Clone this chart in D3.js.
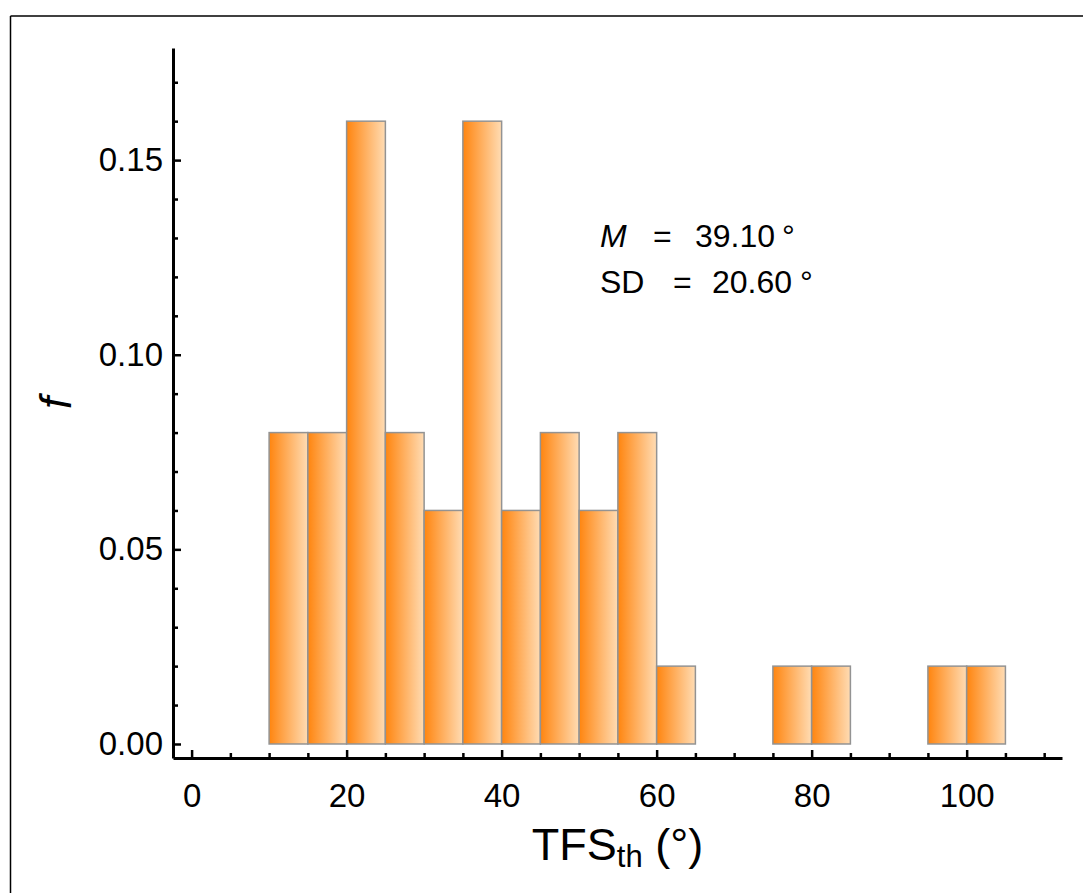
<!DOCTYPE html>
<html>
<head>
<meta charset="utf-8">
<script src="https://cdn.jsdelivr.net/npm/d3@7"></script>
<style>
  html, body { margin: 0; padding: 0; background: #fff; }
  svg text { font-family: "Liberation Sans", Arial, Helvetica, sans-serif; fill: #000; }
</style>
</head>
<body>
<svg id="chart" width="1083" height="893"></svg>
<script>
// ---- data ----
const binStarts = [10, 15, 20, 25, 30, 35, 40, 45, 50, 55, 60, 75, 80, 95, 100];
const binWidth = 5;
const frequencies = [0.08, 0.08, 0.16, 0.08, 0.06, 0.16, 0.06, 0.08, 0.06, 0.08, 0.02, 0.02, 0.02, 0.02, 0.02];
const xMajorTicks = [0, 20, 40, 60, 80, 100];
const xMinorTicks = [5, 10, 15, 25, 30, 35, 45, 50, 55, 65, 70, 75, 85, 90, 95, 105, 110];
const yMajorTicks = [0, 0.05, 0.10, 0.15];
const yMinorTicks = [0.01, 0.02, 0.03, 0.04, 0.06, 0.07, 0.08, 0.09, 0.11, 0.12, 0.13, 0.14, 0.16, 0.17];
const statsRows = [
  { name: "M", italic: true, value: "39.10" },
  { name: "SD", italic: false, value: "20.60" }
];

// ---- layout ----
const svg = d3.select("#chart");
const x = d3.scaleLinear().domain([-2.4, 112.3]).range([173, 1062]);
const y = d3.scaleLinear().domain([-0.0036, 0.1788]).range([758, 48]);

// frame lines (top and left)
svg.append("line").attr("x1", 10.5).attr("x2", 1083).attr("y1", 16).attr("y2", 16)
  .attr("stroke", "#000").attr("stroke-width", 1.5);
svg.append("line").attr("x1", 10.5).attr("x2", 10.5).attr("y1", 16).attr("y2", 893)
  .attr("stroke", "#000").attr("stroke-width", 1.5);

// gradient
const defs = svg.append("defs");
const grad = defs.append("linearGradient").attr("id", "barGrad")
  .attr("x1", "0%").attr("x2", "100%").attr("y1", "0%").attr("y2", "0%");
grad.append("stop").attr("offset", "0%").attr("stop-color", "#ff850f");
grad.append("stop").attr("offset", "100%").attr("stop-color", "#ffdcb4");

// bars
const bars = binStarts.map((s, i) => ({ x0: s, x1: s + binWidth, f: frequencies[i] }));
svg.append("g").selectAll("rect").data(bars).join("rect")
  .attr("x", d => x(d.x0))
  .attr("width", d => x(d.x1) - x(d.x0))
  .attr("y", d => y(d.f))
  .attr("height", d => y(0) - y(d.f))
  .attr("fill", "url(#barGrad)")
  .attr("stroke", "#939393")
  .attr("stroke-width", 1.5);

const tickFont = 33;

// y axis
const yAxisG = svg.append("g").attr("transform", `translate(${x.range()[0]},0)`);
yAxisG.call(d3.axisLeft(y).tickValues(yMajorTicks).tickFormat(d3.format(".2f"))
  .tickSize(-8).tickSizeOuter(0).tickPadding(10));
const yMinorG = svg.append("g").attr("transform", `translate(${x.range()[0]},0)`);
yMinorG.call(d3.axisLeft(y).tickValues(yMinorTicks).tickFormat("").tickSize(-5).tickSizeOuter(0));
yMinorG.select(".domain").remove();

// x axis
const xAxisG = svg.append("g").attr("transform", `translate(0,${y.range()[0]})`);
xAxisG.call(d3.axisBottom(x).tickValues(xMajorTicks).tickFormat(d3.format("d"))
  .tickSize(-8).tickSizeOuter(0).tickPadding(26));
const xMinorG = svg.append("g").attr("transform", `translate(0,${y.range()[0]})`);
xMinorG.call(d3.axisBottom(x).tickValues(xMinorTicks).tickFormat("").tickSize(-5).tickSizeOuter(0));
xMinorG.select(".domain").remove();

svg.selectAll(".domain").attr("stroke", "#000").attr("stroke-width", 3);
svg.selectAll(".tick line").attr("stroke", "#000").attr("stroke-width", 2.5);
svg.selectAll(".tick text").attr("font-size", tickFont)
  .attr("font-family", "Liberation Sans, Arial, Helvetica, sans-serif").attr("fill", "#000");

// axis labels
const xl = svg.append("text").attr("x", (x.range()[0] + x.range()[1]) / 2).attr("y", 860)
  .attr("text-anchor", "middle").attr("font-size", 45);
xl.append("tspan").text("TFS");
xl.append("tspan").attr("font-size", 31).attr("dy", 7).text("th");
xl.append("tspan").attr("dy", -7).text(" (°)");

svg.append("text").attr("transform", `translate(71,${(y.range()[0] + y.range()[1]) / 2}) rotate(-90)`)
  .attr("text-anchor", "middle").attr("font-size", 44).attr("font-style", "italic").text("f");

// stats annotation
const annFont = 32;
const nameX = 600, eqX = [653, 673], valX = [695, 712], degX = [782, 800], baseY = [247, 293];
statsRows.forEach((r, i) => {
  svg.append("text").attr("x", nameX).attr("y", baseY[i]).attr("font-size", annFont)
    .attr("font-style", r.italic ? "italic" : "normal").text(r.name);
  svg.append("text").attr("x", eqX[i]).attr("y", baseY[i]).attr("font-size", annFont).text("=");
  svg.append("text").attr("x", valX[i]).attr("y", baseY[i]).attr("font-size", annFont).text(r.value);
  svg.append("text").attr("x", degX[i]).attr("y", baseY[i]).attr("font-size", annFont).text("°");
});
</script>
</body>
</html>
